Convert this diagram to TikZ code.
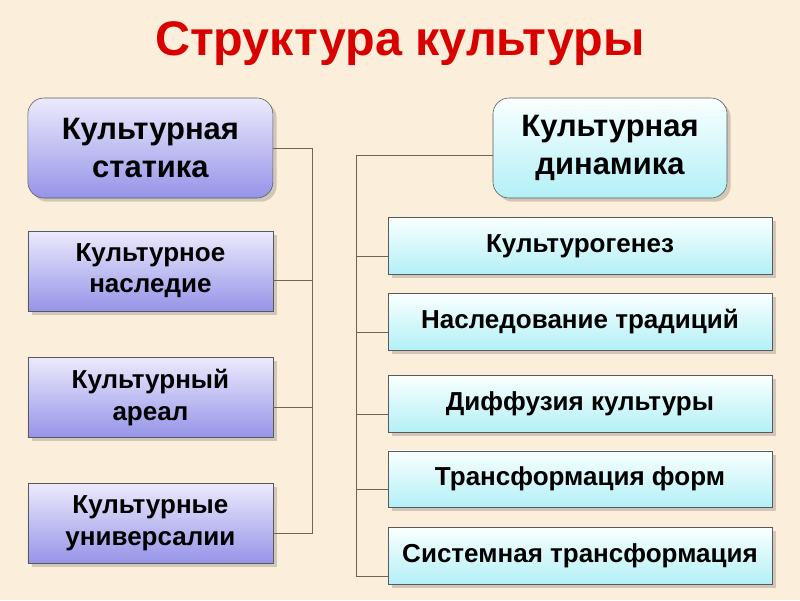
\documentclass[tikz,border=0pt]{standalone}
\usepackage{fontspec}
\setmainfont{Liberation Sans}
\usetikzlibrary{positioning,calc,shadows}
\definecolor{bgbeige}{RGB}{251,238,218}
\definecolor{lavtop}{RGB}{236,234,252}
\definecolor{lavbot}{RGB}{150,148,232}
\definecolor{cyantop}{RGB}{250,255,255}
\definecolor{cyanbot}{RGB}{178,240,246}
\definecolor{linegray}{RGB}{110,100,90}
\tikzset{
  statbox/.style={draw=gray!70!black, top color=lavtop, bottom color=lavbot, minimum width=6.125cm,
    align=center, font=\bfseries\fontsize{18.5}{22.5}\selectfont, drop shadow={opacity=0.35}},
  dynbox/.style={draw=gray!70!black, top color=cyantop, bottom color=cyanbot, minimum width=9.6cm,
    minimum height=1.42cm, align=center, font=\bfseries\fontsize{18.5}{22.5}\selectfont, drop shadow={opacity=0.35}},
  headbox/.style={rounded corners=0.4cm, minimum height=2.5cm, font=\bfseries\fontsize{22}{27}\selectfont},
  link/.style={draw=linegray, line width=0.6pt}
}
\begin{document}
\begin{tikzpicture}
\useasboundingbox[fill=bgbeige] (0,0) rectangle (20,-15);
\node (title) at (10,-1.08) {\textcolor{red!85!black}{\bfseries\fontsize{34.5}{40}\selectfont Структура культуры}};
% left column
\node[statbox, headbox, minimum width=6.125cm] (stat) at (3.76,-3.7) {Культурная\\статика};
\node[statbox, minimum height=2cm] (nasl) at (3.76,-6.77) {Культурное\\наследие};
\node[statbox, minimum height=2cm] (areal) at (3.76,-9.93) {Культурный\\ареал};
\node[statbox, minimum height=2cm] (univ) at (3.76,-13.08) {Культурные\\универсалии};
% right column
\node[dynbox, headbox, minimum width=5.85cm] (dyn) at (15.25,-3.7) {Культурная\\динамика};
\node[dynbox] (genez) at (14.5,-6.15) {Культурогенез};
\node[dynbox] (trad) at (14.5,-8.05) {Наследование традиций};
\node[dynbox] (diff) at (14.5,-10.1) {Диффузия культуры};
\node[dynbox] (form) at (14.5,-11.98) {Трансформация форм};
\node[dynbox] (sist) at (14.5,-13.9) {Системная трансформация};
% connectors
\coordinate (lbus) at (7.8,0);
\coordinate (rbus) at (8.9,0);
\draw[link] (stat.east) -- (stat.east -| lbus) -- ([yshift=-0.25cm]univ.east -| lbus) -- ([yshift=-0.25cm]univ.east);
\foreach \n in {nasl,areal}
  \draw[link] ([yshift=-0.25cm]\n.east) -- ([yshift=-0.25cm]\n.east -| lbus);
\draw[link] ([yshift=-0.18cm]dyn.west) -- ([yshift=-0.18cm]dyn.west -| rbus) -- ([yshift=-0.5cm]sist.west -| rbus) -- ([yshift=-0.5cm]sist.west);
\foreach \n in {genez,trad,diff,form}
  \draw[link] ([yshift=-0.25cm]\n.west) -- ([yshift=-0.25cm]\n.west -| rbus);
\end{tikzpicture}
\end{document}
